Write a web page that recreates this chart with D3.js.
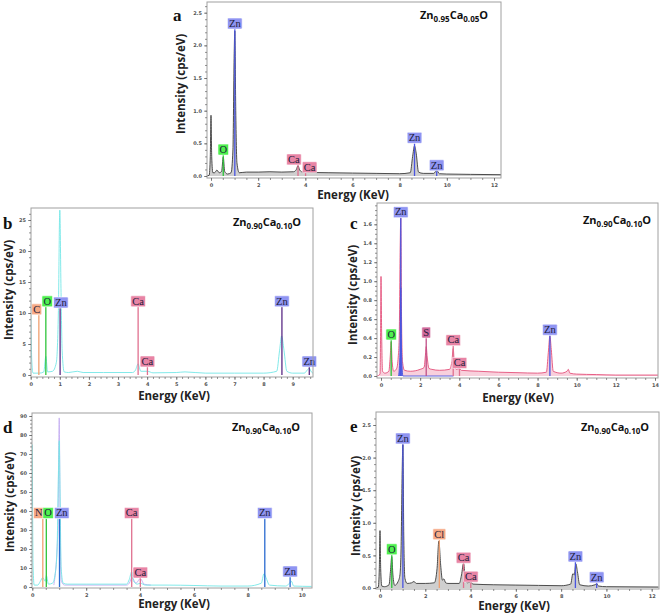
<!DOCTYPE html>
<html>
<head>
<meta charset="utf-8">
<script src="https://cdn.jsdelivr.net/npm/d3@7"></script>
<style>
  body { margin: 0; background: #fff; }
  svg { display: block; }
</style>
</head>
<body>
<svg id="root" width="661" height="615"></svg>
<script>
// EDS spectra of Ca-doped ZnO, five panels

// Spectrum points [energy keV, intensity]
const aSpectrum = [[-0.2,0],[-0.08,0.01],[-0.03,0.3],[0,0.93],[0.03,0.3],[0.08,0.05],[0.15,0.05],[0.25,0.09],[0.35,0.05],[0.45,0.07],[0.52,0.29],[0.58,0.07],[0.7,0.03],[0.85,0.05],[0.93,0.4],[0.98,1.8],[1.01,2.22],[1.05,1.0],[1.1,0.2],[1.2,0.05],[1.5,0.06],[2,0.06],[2.5,0.065],[3,0.06],[3.5,0.065],[3.62,0.1],[3.69,0.16],[3.76,0.09],[3.9,0.06],[4.01,0.07],[4.1,0.055],[5,0.05],[6,0.045],[7,0.04],[8,0.035],[8.45,0.05],[8.55,0.3],[8.63,0.46],[8.7,0.35],[8.8,0.06],[9.0,0.04],[9.45,0.04],[9.57,0.09],[9.68,0.035],[10,0.03],[11,0.025],[12.3,0.02]];
const bSpectrum = [[0,10],[0.04,2],[0.08,0.3],[0.3,0.3],[0.45,0.5],[0.52,3],[0.58,0.5],[0.75,0.6],[0.88,2],[0.95,10],[1.0,26.6],[1.04,14],[1.08,4],[1.15,0.5],[1.3,0.4],[1.6,0.6],[1.8,0.4],[2.5,0.4],[3.5,0.4],[3.6,0.8],[3.69,1.8],[3.78,0.6],[4.01,0.6],[4.2,0.35],[5,0.4],[5.3,0.5],[6,0.3],[7,0.3],[8,0.3],[8.45,0.6],[8.55,4],[8.62,6.3],[8.7,4],[8.8,0.6],[9,0.3],[9.4,0.3],[9.5,0.8],[9.57,1.1],[9.64,0.5],[9.7,0.3]];
const cSpectrum = [[-0.2,0],[-0.05,0.02],[-0.02,0.5],[0,1.05],[0.03,0.5],[0.08,0.05],[0.2,0.03],[0.4,0.05],[0.47,0.2],[0.52,0.36],[0.57,0.15],[0.65,0.05],[0.8,0.08],[0.88,0.2],[0.93,0.4],[0.98,1.35],[1.01,1.67],[1.05,0.6],[1.1,0.15],[1.2,0.06],[1.5,0.05],[2,0.07],[2.2,0.09],[2.27,0.22],[2.31,0.31],[2.36,0.2],[2.45,0.08],[2.6,0.07],[3,0.06],[3.5,0.07],[3.62,0.15],[3.69,0.29],[3.75,0.12],[3.85,0.07],[4.01,0.08],[4.1,0.06],[5,0.05],[6,0.04],[7,0.035],[8,0.03],[8.45,0.04],[8.55,0.25],[8.63,0.42],[8.7,0.28],[8.8,0.05],[9.2,0.03],[9.5,0.05],[9.57,0.07],[9.65,0.03],[10,0.02],[11,0.015],[12,0.01],[14.15,0.01]];
const cZnFit = [[0.9,0],[0.97,0.25],[1.01,0.93],[1.05,0.25],[1.12,0],[3.7,0]];
const dSpectrum = [[0,75],[0.03,10],[0.07,1],[0.2,1],[0.3,3],[0.39,5],[0.48,3],[0.52,6],[0.6,1.5],[0.75,2],[0.85,7],[0.92,20],[0.97,60],[1.0,77],[1.03,50],[1.07,10],[1.15,2],[1.3,1.5],[2,1.5],[3.5,1.5],[3.6,4],[3.69,8],[3.76,3],[3.9,1.5],[4.01,2],[4.2,1],[5,1],[6,0.8],[7,0.5],[8,0.5],[8.5,2],[8.6,7],[8.7,4],[8.8,1],[9.4,0.5],[9.55,2],[9.62,3],[9.7,0.5],[10.37,0.3]];
const dSpectrum2 = [[0.8,1],[0.95,30],[1.0,89],[1.03,40],[1.08,3],[1.2,1],[3.5,1],[3.6,2],[3.7,5],[3.85,2],[4.01,4.5],[4.15,1.5],[4.4,1]];
const eSpectrum = [[-0.2,0],[-0.08,0.01],[-0.03,0.3],[0,0.88],[0.03,0.3],[0.08,0.03],[0.2,0.02],[0.4,0.05],[0.46,0.25],[0.52,0.48],[0.57,0.2],[0.65,0.04],[0.8,0.1],[0.88,0.2],[0.93,0.6],[0.98,1.8],[1.01,2.2],[1.05,0.8],[1.1,0.15],[1.2,0.07],[1.4,0.08],[1.5,0.1],[1.6,0.07],[2,0.07],[2.4,0.08],[2.52,0.3],[2.6,0.72],[2.68,0.35],[2.76,0.12],[2.82,0.14],[2.9,0.08],[3,0.07],[3.5,0.07],[3.6,0.2],[3.69,0.38],[3.76,0.18],[3.85,0.08],[4.01,0.09],[4.1,0.06],[5,0.05],[6,0.045],[7,0.04],[8,0.035],[8.42,0.06],[8.52,0.22],[8.58,0.2],[8.65,0.37],[8.72,0.25],[8.82,0.05],[9.2,0.03],[9.5,0.05],[9.57,0.07],[9.65,0.03],[10,0.02],[12.3,0.015]];

// Element markers [element, energy keV, label height]
const aMarkers = [["O",0.52,0.32],["Zn",1.01,2.25],["Ca",3.69,0.17],["Ca",4.01,0.05],["Zn",8.63,0.5],["Zn",9.57,0.08]];
const bMarkers = [["C",0.28,9.7],["O",0.52,11],["Zn",1.01,10.8],["Ca",3.69,11],["Ca",4.01,1.3],["Zn",8.63,11],["Zn",9.57,1.3]];
const cMarkers = [["O",0.52,0.38],["Zn",1.01,1.67],["S",2.31,0.4],["Ca",3.69,0.32],["Ca",4.01,0.08],["Zn",8.63,0.43]];
const dMarkers = [["N",0.39,36],["O",0.52,36],["Zn",1.01,36],["Ca",3.69,36],["Ca",4.01,4.7],["Zn",8.63,36],["Zn",9.57,5.3]];
const eMarkers = [["O",0.52,0.51],["Zn",1.01,2.21],["Cl",2.62,0.74],["Ca",3.69,0.38],["Ca",4.01,0.09],["Zn",8.63,0.4],["Zn",9.57,0.08]];

// Sample names [base, sub, base, sub, base]
const titleA = ["Zn","0.95","Ca","0.05","O"];
const titleB = ["Zn","0.90","Ca","0.10","O"];

const elementColor = {
  Zn: { line: "#4a55e0", fill: "#8f94f2" },
  O:  { line: "#2ec43a", fill: "#4ef04e" },
  Ca: { line: "#e0708f", fill: "#e884a5" },
  C:  { line: "#f0a070", fill: "#f6a985" },
  N:  { line: "#f0a070", fill: "#f6a985" },
  Cl: { line: "#f0a070", fill: "#f6a985" },
  S:  { line: "#c05088", fill: "#d06a9c" }
};

const svg = d3.select("#root");
svg.append("rect").attr("width", 661).attr("height", 615).attr("fill", "#fff");

const panels = [
  { id: "a", box: [207, 2, 501, 178], xd: [0, 12], xr: [211, 494], yd: [0, 2.5], yr: [176, 12.7],
    xt: 2, xm: 0.5, yt: 0.5, ym: 0.1, yf: ".1f", title: titleA, titleX: 420, titleY: 19,
    letter: [173, 21], ylab: [185, 84], xlab: [353, 199],
    series: [{ pts: aSpectrum, stroke: "#3a3a3a", fill: "#cfcfcf" }], markers: aMarkers },
  { id: "b", box: [31, 208, 313, 377], xd: [0, 9], xr: [30.7, 292.7], yd: [0, 25], yr: [375, 220],
    xt: 1, xm: 0.2, yt: 5, ym: 1, yf: "d", title: titleB, titleX: 233, titleY: 226,
    letter: [3, 229], ylab: [13, 290], xlab: [174, 400], lineColor: { Zn: "#5a2a86" },
    series: [{ pts: bSpectrum, stroke: "#74e6e6", fill: null }], markers: bMarkers },
  { id: "c", box: [377, 203, 658, 378], xd: [0, 14], xr: [381, 655], yd: [0, 1.6], yr: [376, 224.3],
    xt: 2, xm: 0.5, yt: 0.2, ym: 0.05, yf: ".1f", title: titleB, titleX: 583, titleY: 224,
    letter: [350, 229], ylab: [357, 295], xlab: [518, 402],
    series: [{ pts: cSpectrum, stroke: "#e4507a", fill: "#f8d0dc" }, { pts: cZnFit, stroke: "#4a55e0", fill: "#5a66e0" }], markers: cMarkers },
  { id: "d", box: [32, 413, 312, 588], xd: [0, 10], xr: [32.3, 301.7], yd: [0, 90], yr: [587, 416],
    xt: 2, xm: 0.5, yt: 10, ym: 2, yf: "d", title: titleB, titleX: 232, titleY: 431,
    letter: [3, 433], ylab: [14, 502], xlab: [174, 608], lineColor: { Zn: "#2a6ad0" },
    series: [{ pts: dSpectrum2, stroke: "#c4aef2", fill: null }, { pts: dSpectrum, stroke: "#74e6e6", fill: null }], markers: dMarkers },
  { id: "e", box: [376, 412, 659, 589], xd: [0, 12], xr: [380, 651.7], yd: [0, 2.5], yr: [588, 425],
    xt: 2, xm: 0.5, yt: 0.5, ym: 0.1, yf: ".1f", title: titleB, titleX: 581, titleY: 431,
    letter: [350, 432], ylab: [360, 506], xlab: [514, 610],
    series: [{ pts: eSpectrum, stroke: "#3a3a3a", fill: "#cfcfcf" }], markers: eMarkers }
];

function drawPanel(p) {
  const g = svg.append("g").attr("id", "panel-" + p.id);
  const [x0, y0, x1, y1] = p.box;
  const x = d3.scaleLinear(p.xd, p.xr);
  const y = d3.scaleLinear(p.yd, p.yr);

  g.append("clipPath").attr("id", "clip-" + p.id)
    .append("rect").attr("x", x0).attr("y", y0).attr("width", x1 - x0).attr("height", y1 - y0);
  const plot = g.append("g").attr("clip-path", `url(#clip-${p.id})`);

  // spectra
  const line = d3.line().x(d => x(d[0])).y(d => y(d[1])).curve(d3.curveMonotoneX);
  const area = d3.area().x(d => x(d[0])).y0(y(0)).y1(d => y(d[1])).curve(d3.curveMonotoneX);
  p.series.forEach(s => {
    if (s.fill) plot.append("path").datum(s.pts).attr("fill", s.fill).attr("d", area);
    plot.append("path").datum(s.pts).attr("fill", "none").attr("stroke", s.stroke)
      .attr("stroke-width", 0.9).attr("d", line);
  });

  // element marker lines
  const labels = p.markers.map(m => {
    const c = elementColor[m[0]];
    const lc = (p.lineColor && p.lineColor[m[0]]) || c.line;
    const cx = x(m[1]), top = y(m[2]);
    plot.append("line").attr("x1", cx).attr("x2", cx).attr("y1", y(0)).attr("y2", top)
      .attr("stroke", lc).attr("stroke-width", 1.3);
    const t = g.append("text").attr("x", cx).attr("y", top - 2.2).attr("text-anchor", "middle")
      .attr("font-family", "Liberation Serif, Times New Roman, serif").attr("font-size", 10.5)
      .attr("fill", "#1c1c3a").text(m[0]);
    const w = t.node().getComputedTextLength() + 3;
    return { t, c, cx, top, w, left: cx - w / 2 };
  });

  // nudge side by side labels apart when they collide
  for (let i = 1; i < labels.length; i++) {
    const a = labels[i - 1], b = labels[i];
    if (Math.abs(a.top - b.top) < 10) {
      const overlap = a.left + a.w + 1 - b.left;
      if (overlap > 0) { a.left -= overlap / 2; b.left += overlap / 2; }
    }
  }
  labels.forEach(l => {
    l.t.attr("x", l.left + l.w / 2);
    g.insert("rect", () => l.t.node()).attr("x", l.left).attr("y", l.top - 11).attr("width", l.w)
      .attr("height", 11).attr("rx", 1).attr("fill", l.c.fill).attr("stroke", "#fff").attr("stroke-width", 0.6);
  });

  // frame
  g.append("rect").attr("x", x0).attr("y", y0).attr("width", x1 - x0).attr("height", y1 - y0)
    .attr("fill", "none").attr("stroke", "#a0a0a0").attr("stroke-width", 1);

  // axes
  const xMaj = d3.range(p.xd[0], p.xd[1] + 1e-9, p.xt);
  const xMin = d3.range(p.xd[0], x.invert(x1) + 1e-9, p.xm);
  const yMaj = d3.range(p.yd[0], p.yd[1] + 1e-9, p.yt);
  const yMin = d3.range(p.yd[0], y.invert(y0) + 1e-9, p.ym);
  const axStyle = sel => {
    sel.select(".domain").remove();
    sel.selectAll("line").attr("stroke", "#666").attr("stroke-width", 0.7);
    sel.selectAll("text").attr("font-family", "DejaVu Sans, sans-serif").attr("font-size", 5)
      .attr("font-weight", "bold").attr("fill", "#555");
  };
  g.append("g").attr("transform", `translate(0,${y1})`)
    .call(d3.axisBottom(x).tickValues(xMin).tickSize(2).tickFormat("")).call(axStyle);
  g.append("g").attr("transform", `translate(0,${y1})`)
    .call(d3.axisBottom(x).tickValues(xMaj).tickSize(3).tickPadding(2).tickFormat(d3.format("d"))).call(axStyle);
  g.append("g").attr("transform", `translate(${x0},0)`)
    .call(d3.axisLeft(y).tickValues(yMin).tickSize(2).tickFormat("")).call(axStyle);
  g.append("g").attr("transform", `translate(${x0},0)`)
    .call(d3.axisLeft(y).tickValues(yMaj).tickSize(3).tickPadding(2).tickFormat(d3.format(p.yf))).call(axStyle);

  // panel letter
  g.append("text").attr("x", p.letter[0]).attr("y", p.letter[1])
    .attr("font-family", "Liberation Serif, serif").attr("font-weight", "bold").attr("font-size", 17)
    .attr("fill", "#111").text(p.id);

  // sample name with subscripts
  const tt = g.append("text").attr("x", p.titleX).attr("y", p.titleY)
    .attr("font-family", "Open Sans, sans-serif").attr("font-weight", "bold").attr("font-size", 11).attr("fill", "#111");
  p.title.forEach((s, i) => {
    tt.append("tspan").attr("font-size", i % 2 ? 8 : 11).attr("dy", i === 0 ? 0 : (i % 2 ? 2.5 : -2.5)).text(s);
  });

  // axis titles
  g.append("text").attr("transform", `translate(${p.ylab[0]},${p.ylab[1]}) rotate(-90)`)
    .attr("text-anchor", "middle").attr("font-family", "Open Sans, sans-serif").attr("font-weight", "bold")
    .attr("font-size", 11.5).attr("fill", "#222").text("Intensity (cps/eV)");
  g.append("text").attr("x", p.xlab[0]).attr("y", p.xlab[1]).attr("text-anchor", "middle")
    .attr("font-family", "Open Sans, sans-serif").attr("font-weight", "bold")
    .attr("font-size", 11.5).attr("fill", "#222").text("Energy (KeV)");
}

panels.forEach(drawPanel);
</script>
</body>
</html>
